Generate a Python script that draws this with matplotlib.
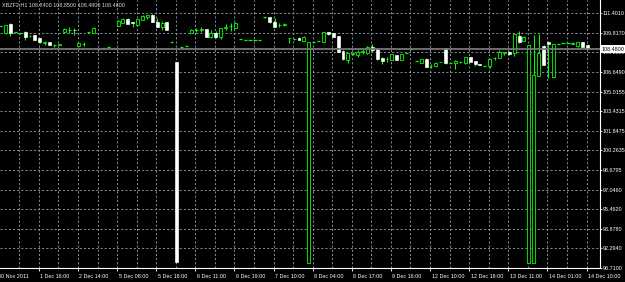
import numpy as np
import matplotlib
matplotlib.use('Agg')
from matplotlib import pyplot as plt
from matplotlib import transforms

plt.rcParams['font.family'] = ['Liberation Sans', 'DejaVu Sans']

# XBZF2 H1 bars, oldest -> newest
opens = [110.35, 109.75, 110.48, 109.83, 109.75, 109.86, 109.52, 109.59, 109.35, 109.00,
         109.02, 108.80, 108.80, 109.86, 110.00, 110.05, 108.74, 108.86, 109.83, 109.80,
         108.48, 108.54, 108.64, 108.54, 110.35, 110.56, 110.89, 110.64, 110.43, 110.83,
         111.10, 111.24, 110.70, 110.24, 110.64, 109.05, 107.40, 108.67, 108.72, 109.75,
         110.00, 110.02, 110.07, 109.43, 109.75, 109.48, 110.21, 110.35, 110.21, 109.26,
         109.18, 109.18, 109.18, 109.18, 111.05, 111.05, 110.64, 110.43, 110.45, 109.35,
         109.30, 109.40, 109.15, 91.12, 109.02, 109.15, 109.07, 109.83, 109.75, 109.53,
         108.34, 107.59, 108.11, 107.99, 108.26, 108.13, 108.67, 108.45, 107.77, 107.64,
         107.59, 107.99, 107.59, 108.13, 108.48, 107.50, 107.37, 107.67, 107.08, 107.10,
         107.40, 108.54, 107.37, 107.32, 107.42, 107.32, 107.80, 107.50, 107.23, 107.10,
         107.10, 107.71, 107.72, 108.18, 108.26, 108.13, 109.53, 109.15, 91.09, 91.09,
         106.29, 108.72, 109.07, 106.23, 108.88, 108.94, 108.94, 108.92, 108.72, 109.02,
         108.84]
highs = [110.37, 110.43, 110.61, 109.85, 109.78, 109.94, 109.62, 109.65, 109.40, 109.15,
         109.05, 108.84, 108.90, 110.15, 110.24, 110.16, 108.98, 109.02, 109.85, 110.24,
         108.48, 108.54, 108.64, 108.54, 110.80, 110.97, 110.97, 110.66, 110.95, 111.20,
         111.27, 111.32, 110.97, 110.75, 110.66, 109.12, 107.40, 108.67, 108.72, 110.07,
         110.19, 110.24, 110.11, 110.02, 109.94, 110.19, 110.51, 110.61, 110.64, 109.26,
         109.18, 109.18, 109.18, 109.18, 111.07, 111.07, 110.99, 110.56, 110.61, 109.40,
         109.40, 109.42, 109.56, 109.07, 109.02, 109.15, 109.85, 109.86, 109.80, 109.56,
         108.37, 108.18, 108.26, 108.40, 108.45, 108.70, 108.88, 108.53, 107.86, 107.86,
         108.07, 108.02, 108.10, 108.13, 108.48, 107.50, 107.70, 107.75, 107.23, 107.40,
         107.45, 108.57, 107.37, 107.56, 107.53, 107.83, 107.86, 107.53, 107.26, 107.10,
         107.67, 107.80, 108.40, 108.26, 108.29, 109.70, 109.94, 109.51, 108.80, 109.62,
         109.70, 108.80, 109.10, 108.91, 108.88, 108.94, 108.94, 109.02, 109.07, 109.05,
         108.85]
lows = [110.33, 109.73, 109.56, 109.81, 109.72, 109.21, 109.42, 109.21, 108.94, 108.80,
        108.80, 108.66, 108.78, 109.84, 109.80, 109.62, 108.70, 108.72, 109.81, 109.80,
        108.48, 108.54, 108.64, 108.54, 110.33, 110.56, 110.48, 110.24, 110.40, 110.80,
        110.89, 110.67, 110.24, 110.02, 110.00, 109.00, 91.20, 108.67, 108.72, 109.75,
        109.86, 109.84, 109.45, 109.40, 109.40, 109.26, 110.02, 109.94, 110.18, 109.26,
        109.18, 109.18, 109.18, 109.18, 111.03, 110.56, 110.24, 110.29, 110.35, 108.98,
        109.21, 109.18, 109.15, 91.12, 109.02, 109.15, 109.05, 109.64, 109.43, 108.24,
        107.62, 107.37, 107.99, 107.83, 108.07, 108.10, 108.26, 107.62, 107.26, 107.45,
        107.56, 107.56, 107.56, 108.13, 108.48, 107.50, 107.35, 106.98, 106.96, 106.98,
        107.40, 107.29, 107.37, 106.83, 107.32, 107.29, 107.42, 107.10, 107.15, 107.10,
        106.96, 107.56, 107.72, 107.99, 108.02, 107.91, 108.99, 109.12, 91.09, 91.09,
        106.29, 107.15, 106.10, 106.20, 108.88, 108.94, 108.94, 108.86, 108.64, 108.64,
        108.48]
closes = [110.35, 110.43, 109.80, 109.83, 109.75, 109.48, 109.55, 109.23, 109.02, 109.02,
          108.82, 108.80, 108.88, 110.12, 110.04, 110.00, 108.94, 108.88, 109.83, 110.16,
          108.48, 108.54, 108.64, 108.54, 110.78, 110.89, 110.51, 110.62, 110.89, 111.16,
          111.24, 110.70, 110.29, 110.61, 110.02, 109.07, 91.20, 108.67, 108.72, 110.02,
          110.04, 110.07, 109.48, 109.75, 109.43, 110.16, 110.24, 110.37, 110.61, 109.26,
          109.18, 109.18, 109.18, 109.18, 111.05, 110.70, 110.29, 110.45, 110.48, 109.37,
          109.32, 109.21, 109.48, 109.07, 109.02, 109.15, 109.83, 109.67, 109.48, 108.26,
          107.64, 108.13, 108.13, 108.26, 108.28, 108.67, 108.40, 107.67, 107.50, 107.67,
          108.05, 107.59, 108.07, 108.13, 108.48, 107.50, 107.67, 107.04, 107.10, 107.37,
          107.42, 107.32, 107.37, 107.53, 107.45, 107.80, 107.45, 107.26, 107.21, 107.10,
          107.64, 107.72, 108.26, 108.21, 108.05, 109.67, 109.07, 109.48, 108.80, 106.37,
          108.13, 107.18, 108.86, 108.88, 108.88, 108.94, 108.94, 108.94, 109.05, 108.67,
          108.48]

x_tick_bars = [0, 8, 16, 24, 32, 40, 48, 56, 64, 72, 80, 88, 96, 104, 112, 120]
x_tick_labels = ['30 Nov 2011', '1 Dec 16:00', '2 Dec 14:00', '5 Dec 08:00', '5 Dec 16:00',
                 '6 Dec 11:00', '6 Dec 19:00', '7 Dec 10:00', '8 Dec 04:00', '8 Dec 17:00',
                 '9 Dec 16:00', '12 Dec 10:00', '12 Dec 18:00', '13 Dec 11:00',
                 '14 Dec 01:00', '14 Dec 10:00']
y_tick_values = [111.4010, 109.8170, 108.2330, 106.6490, 105.0155, 103.4315, 101.8475,
                 100.2635, 98.6795, 97.0460, 95.4620, 93.8780, 92.2940, 90.7100]
y_tick_labels = ['%.4f' % v for v in y_tick_values]
header = "XBZF2,H1 108.8400 108.8500 108.4800 108.4800"
bid = 108.48

LIME = '#00ff00'
GRID = '#7d8896'
FS = 3.9

W, H = 625, 282
fig = plt.figure(figsize=(W / 100, H / 100), dpi=100, facecolor='black')
ax = fig.add_axes([0, 14 / H, 599.5 / W, 268 / H])
ax.set_facecolor('black')

o = np.array(opens)
h = np.array(highs)
l = np.array(lows)
c = np.array(closes)
k = np.arange(len(o))

ax.set_xlim(-0.14, 122.45)
ax.set_ylim(90.71, 112.456)

# grid
for v in y_tick_values:
    ax.axhline(v, color=GRID, lw=0.75, ls=(0, (2, 2)), zorder=0.5)
for g in range(4, len(o) + 1, 4):
    ax.axvline(g - 0.2, color=GRID, lw=0.75, ls=(0, (2, 2)), zorder=0.5)

# candles
flat = np.isclose(o, c)
bull = (c > o) & ~flat
bear = (c < o) & ~flat
has_wick = h > l
ax.vlines(k[has_wick], l[has_wick], h[has_wick], color=LIME, lw=0.75, zorder=2)
ax.hlines(o[flat], k[flat] - 0.33, k[flat] + 0.33, color=LIME, lw=0.9, zorder=3)
ax.bar(k[bull], (c - o)[bull], bottom=o[bull], width=0.6, color='black',
       edgecolor=LIME, linewidth=0.6, zorder=3)
ax.bar(k[bear], (o - c)[bear], bottom=c[bear], width=0.6, color='white',
       edgecolor='#e8ffe8', linewidth=0.5, zorder=3)

# bid line
ax.axhline(bid, color='#777777', lw=1.3, zorder=4)

# axes frame
for s in ['top', 'left']:
    ax.spines[s].set_visible(False)
for s in ['right', 'bottom']:
    ax.spines[s].set_color('white')
    ax.spines[s].set_linewidth(0.8)

ax.yaxis.tick_right()
ax.set_yticks(y_tick_values)
ax.set_yticklabels(y_tick_labels)
ax.tick_params(axis='y', colors='white', length=1.5, width=0.6, pad=0.8, labelsize=FS)

ax.set_xticks([b - 0.2 for b in x_tick_bars[1:]])
ax.set_xticklabels([])
ax.tick_params(axis='x', colors='white', length=2.5, width=0.6)

blend = transforms.blended_transform_factory(ax.transData, ax.transAxes)
for i, (b, lab) in enumerate(zip(x_tick_bars, x_tick_labels)):
    xpos = b - 0.2 if i > 0 else b - 0.8
    off = transforms.ScaledTranslation(1.5 / 100, -8 / 100, fig.dpi_scale_trans)
    ax.text(xpos, 0, lab, transform=blend + off, ha='left', va='center',
            color='white', fontsize=FS, clip_on=False)

# current price box
blend_y = transforms.blended_transform_factory(ax.transAxes, ax.transData)
off = transforms.ScaledTranslation(2 / 100, 0, fig.dpi_scale_trans)
ax.text(1.0, bid, '108.4800', transform=blend_y + off, ha='left', va='center',
        color='black', fontsize=FS, clip_on=False, zorder=10,
        bbox=dict(boxstyle='square,pad=0.25', fc='white', ec='none'))

fig.text(2 / W, 1 - 5 / H, header, color='#d8d8d8', fontsize=FS, ha='left', va='center')

fig.savefig('out.png', dpi=100, facecolor='black')
